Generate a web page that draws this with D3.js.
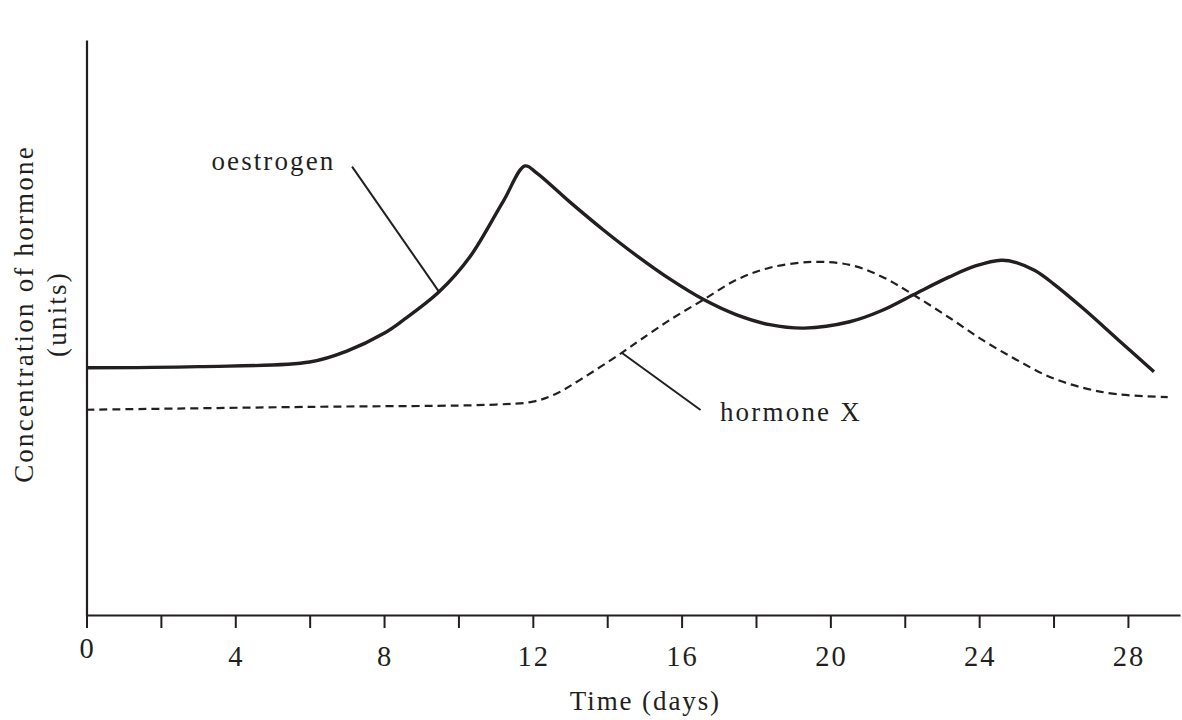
<!DOCTYPE html>
<html><head><meta charset="utf-8">
<script src="https://cdn.jsdelivr.net/npm/d3@7"></script>
<style>body{margin:0;background:#fff}</style>
</head><body><svg id="c" width="1182" height="720"></svg>
<script>
// ---- data (arbitrary concentration units, 0-100 scale) ----
const oestrogenDays   = [0, 3, 6, 7, 8, 8.5, 9.48, 10.31, 11.2, 11.79, 12.1, 13.0, 13.89, 14.79, 15.69, 16.58, 17.48, 18.37, 19.3, 20.52, 21.4, 22.23, 23.2, 23.9, 24.6, 25.0, 25.5, 26.0, 26.8, 27.75, 28.7];
const oestrogenValues = [43.0, 43.2, 44.0, 45.9, 49.0, 51.2, 56.2, 62.3, 71.9, 78.1, 76.9, 71.8, 67.0, 62.5, 58.4, 54.9, 52.2, 50.5, 49.9, 51.0, 53.0, 55.7, 58.8, 60.7, 61.7, 61.3, 59.9, 57.6, 53.3, 47.8, 42.3];
const hormoneXDays    = [0, 6, 11, 12, 12.6, 13.27, 14.39, 14.88, 15.68, 16.58, 17.48, 18.37, 19.5, 20.52, 21.4, 22.23, 23.2, 24.1, 25.0, 25.9, 26.8, 27.7, 29.07];
const hormoneXValues  = [35.7, 36.2, 36.6, 37.1, 38.4, 40.9, 45.6, 47.8, 51.3, 54.8, 58.3, 60.4, 61.4, 60.9, 58.8, 55.7, 51.7, 47.8, 44.4, 41.4, 39.5, 38.4, 37.9];
const minorTicks = [0, 2, 4, 6, 8, 10, 12, 14, 16, 18, 20, 22, 24, 26, 28];
const tickLabels = [0, 4, 8, 12, 16, 20, 24, 28];
const xTitle = "Time (days)";
const yTitle = ["Concentration of hormone", "(units)"];
// annotation anchors [day, value]
const oestrogenLeader = [[7.14, 77.97], [9.48, 56.2]];
const oestrogenLabel = [3.36, 77.4];
const hormoneXLeader = [[14.39, 45.6], [16.51, 35.65]];
const hormoneXLabel = [17.03, 33.7];

const ink = "#231f20";
const font = "'Liberation Serif','Times New Roman',serif";
const svg = d3.select("#c");
const x = d3.scaleLinear().domain([0, 29.4]).range([86.5, 1180]);
const y = d3.scaleLinear().domain([0, 100]).range([615, 40]);

// axes
const gx = svg.append("g").attr("transform", `translate(0,${y(0)})`)
  .call(d3.axisBottom(x).tickValues(minorTicks).tickSize(13).tickSizeOuter(0).tickFormat(""));
gx.select(".domain").attr("stroke", ink).attr("stroke-width", 2.2);
gx.selectAll(".tick line").attr("stroke", ink).attr("stroke-width", 2);

const gy = svg.append("g").attr("transform", `translate(${x(0)},0)`)
  .call(d3.axisLeft(y).tickValues([]).tickSizeOuter(0));
gy.select(".domain").attr("stroke", ink).attr("stroke-width", 2.2);

// tick labels
svg.append("g").selectAll("text").data(tickLabels).join("text")
  .attr("x", d => x(d) + 1)
  .attr("y", d => d === 0 ? 658 : 666)
  .attr("text-anchor", "middle")
  .attr("font-family", font).attr("font-size", 28.5).attr("letter-spacing", 2)
  .attr("fill", ink).text(d => d);

// axis titles
svg.append("text").attr("x", x(15) + 1).attr("y", 710)
  .attr("text-anchor", "middle").attr("font-family", font).attr("font-size", 27)
  .attr("letter-spacing", 1.9).attr("fill", ink).text(xTitle);

svg.append("g").attr("transform", "translate(0,314) rotate(-90)")
  .selectAll("text").data(yTitle).join("text")
  .attr("x", 0).attr("y", (d, i) => i === 0 ? 33 : 66)
  .attr("text-anchor", "middle").attr("font-family", font).attr("font-size", 27)
  .attr("letter-spacing", 2.2).attr("fill", ink).text(d => d);

// curves
const line = d3.line().x(d => x(d[0])).y(d => y(d[1])).curve(d3.curveCatmullRom.alpha(0.5));
svg.append("path").datum(hormoneXDays.map((d, i) => [d, hormoneXValues[i]]))
  .attr("d", line).attr("fill", "none").attr("stroke", ink)
  .attr("stroke-width", 2.2).attr("stroke-dasharray", "8,5");
svg.append("path").datum(oestrogenDays.map((d, i) => [d, oestrogenValues[i]]))
  .attr("d", line).attr("fill", "none").attr("stroke", ink)
  .attr("stroke-width", 3.4).attr("stroke-linejoin", "round");

// leaders and labels
const seg = d3.line().x(d => x(d[0])).y(d => y(d[1]));
[oestrogenLeader, hormoneXLeader].forEach(p =>
  svg.append("path").attr("d", seg(p)).attr("stroke", ink).attr("stroke-width", 2).attr("fill", "none"));
svg.append("text").attr("x", x(oestrogenLabel[0])).attr("y", y(oestrogenLabel[1]))
  .attr("font-family", font).attr("font-size", 27).attr("letter-spacing", 2.1)
  .attr("fill", ink).text("oestrogen");
svg.append("text").attr("x", x(hormoneXLabel[0])).attr("y", y(hormoneXLabel[1]))
  .attr("font-family", font).attr("font-size", 27).attr("letter-spacing", 2.2)
  .attr("fill", ink).text("hormone X");
</script></body></html>
